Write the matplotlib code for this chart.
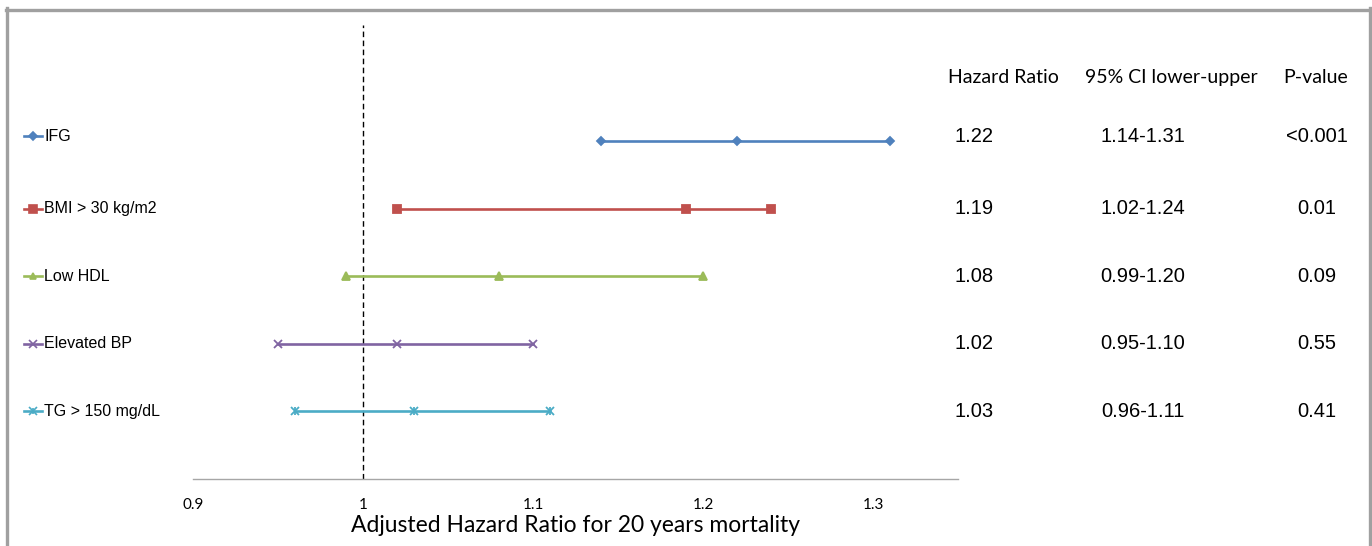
import matplotlib.pyplot as plt
from matplotlib.lines import Line2D
import matplotlib.transforms as mtransforms

factors = ["IFG", "BMI > 30 kg/m2", "Low HDL", "Elevated BP", "TG > 150 mg/dL"]
hazard_ratio = [1.22, 1.19, 1.08, 1.02, 1.03]
ci_lower = [1.14, 1.02, 0.99, 0.95, 0.96]
ci_upper = [1.31, 1.24, 1.20, 1.10, 1.11]
p_values = ["<0.001", "0.01", "0.09", "0.55", "0.41"]
x_ticks = [0.9, 1.0, 1.1, 1.2, 1.3]
x_tick_labels = ["0.9", "1", "1.1", "1.2", "1.3"]

colors = ["#4F81BD", "#C0504D", "#9BBB59", "#8064A2", "#4BACC6"]
markers = ["D", "s", "^", "x", "x"]
msizes = [4.5, 6, 5.5, 6, 6]

narrow = ["Lato", "DejaVu Sans"]
arial = ["Liberation Sans", "DejaVu Sans"]

fig = plt.figure(figsize=(13.72, 5.46), dpi=100)
ax = fig.add_axes([193 / 1372, 67 / 546, 765 / 1372, 454 / 546])

n = len(factors)
rows = [n - i for i in range(n)]

for i, y in enumerate(rows):
    xs = [ci_lower[i], hazard_ratio[i], ci_upper[i]]
    ax.plot(xs, [y] * 3, color=colors[i], lw=1.9, marker=markers[i],
            markersize=msizes[i], markeredgewidth=1.3, clip_on=False, zorder=3)
    if i == 4:
        # asterisk marker: x plus a vertical tick
        ax.plot(xs, [y] * 3, ls="none", color=colors[i], marker="|",
                markersize=6, markeredgewidth=1.3, clip_on=False, zorder=3)

ax.axvline(1.0, color="black", lw=1, ls=(0, (4, 2.5)), zorder=2)

ax.set_xlim(0.9, 1.35)
ax.set_ylim(0, 6.72)
ax.set_xticks(x_ticks)
ax.set_xticklabels(x_tick_labels, fontsize=11, family=narrow)
ax.tick_params(axis="x", length=0, pad=13.5)
ax.set_yticks([])
for side in ["top", "left", "right"]:
    ax.spines[side].set_visible(False)
ax.spines["bottom"].set_color("#a6a6a6")
ax.spines["bottom"].set_linewidth(1)
ax.set_xlabel("Adjusted Hazard Ratio for 20 years mortality", fontsize=16.5,
              family=narrow, labelpad=2)

# legend entries at the left, aligned with each row
tr = mtransforms.blended_transform_factory(fig.transFigure, ax.transData)
for i, y in enumerate(rows):
    yy = y + (0.07 if i == 0 else 0.0)
    fig.add_artist(Line2D([24 / 1372, 42 / 1372], [yy, yy], transform=tr,
                          color=colors[i], lw=1.9))
    fig.add_artist(Line2D([33 / 1372], [yy], transform=tr, color=colors[i],
                          marker=markers[i], markersize=msizes[i] * 0.85,
                          markeredgewidth=1.2))
    if i == 4:
        fig.add_artist(Line2D([33 / 1372], [yy], transform=tr, color=colors[i],
                              marker="|", markersize=5, markeredgewidth=1.2))
    fig.text(44 / 1372, yy, factors[i], transform=tr, fontsize=11.5,
             family=arial, va="center", ha="left")

# table of estimates on the right
col_x = [974 / 1372, 1143 / 1372, 1317 / 1372]
heads = ["Hazard Ratio", "95% CI lower-upper", "P-value"]
head_x = [1003 / 1372, 1171 / 1372, 1316 / 1372]
for hx, h in zip(head_x, heads):
    fig.text(hx, 1 - 78 / 546, h, fontsize=14, family=narrow,
             ha="center", va="center")
for i, y in enumerate(rows):
    vals = [f"{hazard_ratio[i]:.2f}", f"{ci_lower[i]:.2f}-{ci_upper[i]:.2f}",
            p_values[i]]
    yy = y + (0.07 if i == 0 else 0.0)
    for cx, v in zip(col_x, vals):
        fig.text(cx, yy, v, transform=tr, fontsize=14.5, family=arial,
                 ha="center", va="center")

# outer gray frame (open at the bottom)
frame = "#a0a0a0"
fig.add_artist(Line2D([6.5 / 1372, 6.5 / 1372], [0, 1 - 8 / 546],
                      color=frame, lw=2.4))
fig.add_artist(Line2D([1369.5 / 1372, 1369.5 / 1372], [0, 1 - 8 / 546],
                      color=frame, lw=2.4))
fig.add_artist(Line2D([5.5 / 1372, 1370.5 / 1372], [1 - 9.5 / 546, 1 - 9.5 / 546],
                      color=frame, lw=2.4))

fig.savefig("out.png", dpi=100)
